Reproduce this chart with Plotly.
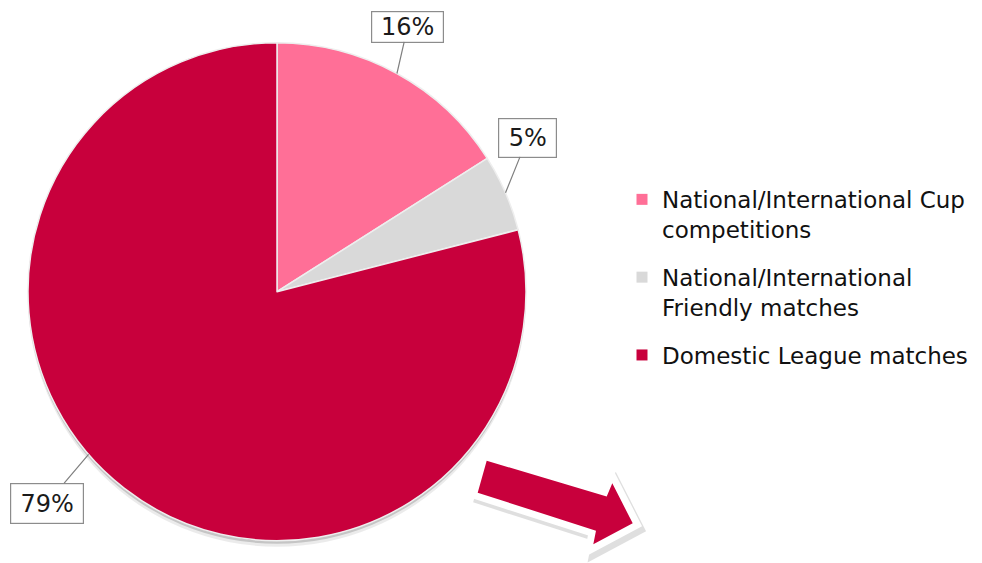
import math
import plotly.graph_objects as go

# ---- data ----
categories = ["National/International Cup<br>competitions",
              "National/International<br>Friendly matches",
              "Domestic League matches"]
values = [16, 5, 79]
colors = ["#FF6F97", "#D9D9D9", "#C8003C"]

# ---- layout constants ----
W, H = 982, 563
CX, CY, R = 277.0, 291.7, 249.0           # pie centre / radius in pixels
FONT = "DejaVu Sans, Liberation Sans, Arial, sans-serif"
label_frac = [0.5, 0.5, 0.54]             # where along each slice the callout points
box_centers = [(407.7, 26.5), (527.8, 137.5), (47.2, 503.0)]
box_sizes = [(71, 30), (57, 38), (72, 39)]

def px2paper(x, y):
    return x / W, 1 - y / H

fig = go.Figure()
fig.add_trace(go.Pie(
    labels=categories, values=values, sort=False, direction="clockwise",
    rotation=0, textinfo="none", textposition="none", hoverinfo="label+percent",
    marker=dict(colors=colors, line=dict(color="#EEEEEE", width=1.5)),
    domain=dict(x=[(CX - R) / W, (CX + R) / W], y=[1 - (CY + R) / H, 1 - (CY - R) / H]),
    showlegend=False,
))

# legend entries (one group per category so the legend gap can be applied)
for i, (name, col) in enumerate(zip(categories, colors)):
    fig.add_trace(go.Scatter(
        x=[None], y=[None], mode="markers", name=name, legendgroup=f"g{i}",
        marker=dict(symbol="square", size=11, color=col), hoverinfo="skip",
    ))

# ---- callout annotations computed from the data ----
total = float(sum(values))
annotations = []
start = 0.0
for i, v in enumerate(values):
    span = v / total * 360.0
    ang = math.radians(start + label_frac[i] * span)
    tx = CX + R * math.sin(ang)
    ty = CY - R * math.cos(ang)
    bx, by = box_centers[i]
    px, py = px2paper(tx, ty)
    annotations.append(dict(
        x=px, y=py, xref="paper", yref="paper",
        ax=bx - tx, ay=by - ty, axref="pixel", ayref="pixel",
        text=f"{round(v / total * 100)}%", showarrow=True, arrowhead=0,
        arrowwidth=1.2, arrowcolor="#7F7F7F", standoff=0,
        bordercolor="#8C8C8C", borderwidth=1.2, borderpad=0, bgcolor="white",
        width=box_sizes[i][0], height=box_sizes[i][1],
        font=dict(family=FONT, size=24, color="#1A1A1A"),
    ))
    start += span

# ---- decorative shapes (pie shadow, arrow) ----
shapes = []
for off, op in [(3, 0.16), (6, 0.08)]:
    x0, y1 = px2paper(CX - R, CY - R + off)
    x1, y0 = px2paper(CX + R, CY + R + off)
    shapes.append(dict(type="circle", xref="paper", yref="paper", layer="below",
                       x0=x0, x1=x1, y0=y0, y1=y1, fillcolor="black",
                       line=dict(width=0), opacity=op))

arrow_px = [(486.7, 460.7), (606.7, 496.5), (612.3, 483.3), (632.7, 523.3),
            (593.3, 544.3), (596.0, 530.7), (477.7, 492.7)]

def path_of(pts, dx=0.0, dy=0.0):
    segs = []
    for k, (x, y) in enumerate(pts):
        X, Y = px2paper(x + dx, y + dy)
        segs.append(("M" if k == 0 else "L") + f"{X:.5f},{Y:.5f}")
    return " ".join(segs) + " Z"

shapes.append(dict(type="path", xref="paper", yref="paper", path=path_of(arrow_px, 4, 5),
                   fillcolor="#000000", line=dict(color="#000000", width=14),
                   opacity=0.12))
shapes.append(dict(type="path", xref="paper", yref="paper", path=path_of(arrow_px),
                   fillcolor="white", line=dict(color="white", width=14)))
shapes.append(dict(type="path", xref="paper", yref="paper", path=path_of(arrow_px),
                   fillcolor="#C8003C", line=dict(width=0)))

fig.update_xaxes(visible=False, range=[0, 1])
fig.update_yaxes(visible=False, range=[0, 1])
fig.update_layout(
    width=W, height=H, autosize=False,
    margin=dict(l=0, r=0, t=0, b=0),
    paper_bgcolor="white", plot_bgcolor="rgba(0,0,0,0)",
    showlegend=True,
    legend=dict(x=0.6334, y=0.684, xanchor="left", yanchor="top", valign="top",
                traceorder="grouped", tracegroupgap=15,
                font=dict(family=FONT, size=23, color="#111111"),
                bgcolor="rgba(0,0,0,0)", borderwidth=0),
    annotations=annotations,
    shapes=shapes,
)

fig.write_html("out.html")
